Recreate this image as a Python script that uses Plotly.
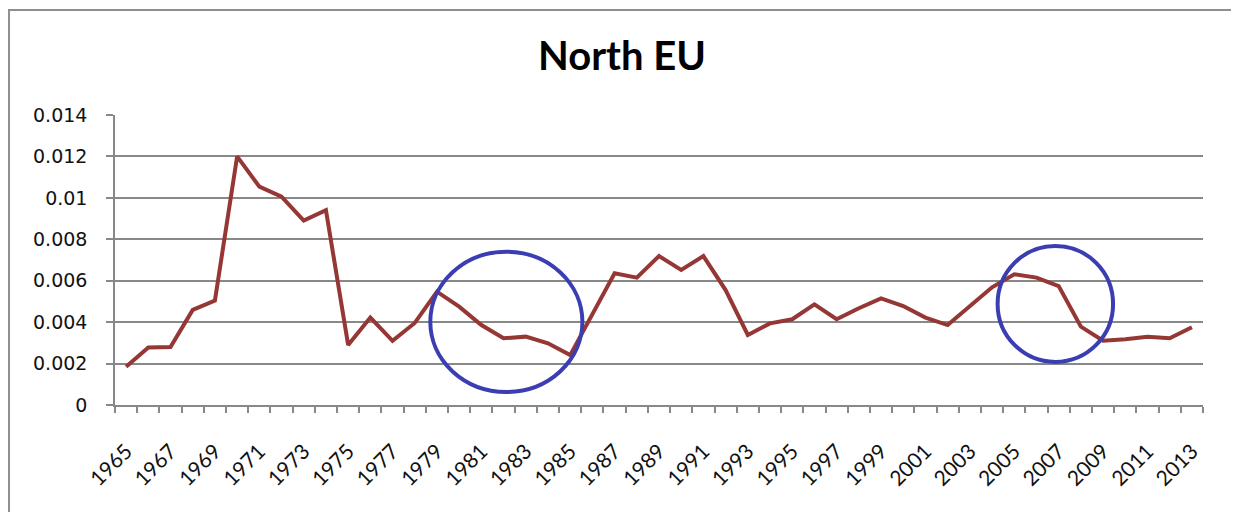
import plotly.graph_objects as go

# --------------------------------------------------
# Data
# --------------------------------------------------
years = list(range(1965, 2014))
values = [
    0.00185, 0.00278, 0.0028, 0.00459, 0.00504,   # 1965-1969
    0.0120, 0.01054, 0.01006, 0.0089, 0.00941,    # 1970-1974
    0.0029, 0.00422, 0.0031, 0.00396, 0.00547,    # 1975-1979
    0.00475, 0.00386, 0.00322, 0.0033, 0.00298,   # 1980-1984
    0.00241, 0.00443, 0.00636, 0.00615, 0.00719,  # 1985-1989
    0.00652, 0.00719, 0.00555, 0.00338, 0.00394,  # 1990-1994
    0.00414, 0.00486, 0.00414, 0.00467, 0.00515,  # 1995-1999
    0.00478, 0.00422, 0.00386, 0.00475, 0.00568,  # 2000-2004
    0.00631, 0.00615, 0.00574, 0.00378, 0.0031,   # 2005-2009
    0.00317, 0.0033, 0.00322, 0.00375,            # 2010-2013
]
tick_years = years[::2]
tick_labels = [str(y) for y in tick_years]
y_ticks = [0, 0.002, 0.004, 0.006, 0.008, 0.01, 0.012, 0.014]
y_tick_labels = ["0", "0.002", "0.004", "0.006", "0.008", "0.01", "0.012", "0.014"]

# hand-drawn highlight circles (year span, value span)
circles = [
    ((1978.7, 1985.55), (0.00063, 0.0074)),
    ((2004.25, 2009.45), (0.00208, 0.00768)),
]

LINE_RED = "#953735"
CIRCLE_BLUE = "#3a3eb2"
GRID = "#888888"

fig = go.Figure()

fig.add_trace(go.Scatter(
    x=years,
    y=values,
    mode="lines",
    line=dict(color=LINE_RED, width=4),
    showlegend=False,
    hovertemplate="%{x}: %{y:.4f}<extra></extra>",
))

shapes = [
    # outer chart frame (runs off the bottom of the picture)
    dict(type="rect", xref="paper", yref="paper",
         x0=-0.0974, x1=1.0285, y0=-0.6, y1=1.362,
         line=dict(color="#8f8f8f", width=2), layer="below"),
]
for (xa, xb), (ya, yb) in circles:
    shapes.append(dict(
        type="circle", xref="x", yref="y",
        x0=xa, x1=xb, y0=ya, y1=yb,
        line=dict(color=CIRCLE_BLUE, width=4),
    ))

# page body adds an 8px offset, so the figure is a bit smaller than the window
fig.update_layout(
    width=1231,
    height=504,
    paper_bgcolor="white",
    plot_bgcolor="white",
    margin=dict(l=107, r=36, t=107, b=107),
    title=dict(
        text="<b>North EU</b>",
        x=(622 - 8) / 1231, xanchor="center",
        y=1 - 48 / 504, yanchor="middle",
        font=dict(family="Lato, Open Sans, sans-serif", size=40, color="black"),
    ),
    xaxis=dict(
        range=[1964.5, 2013.5],
        tickmode="array",
        tickvals=tick_years,
        ticktext=tick_labels,
        tickangle=-45,
        ticks="",
        ticklabelstandoff=24,
        tickfont=dict(family="Lato, Open Sans, sans-serif", size=21, color="#111"),
        showgrid=False,
        zeroline=False,
        showline=True,
        linecolor=GRID,
        linewidth=1.5,
        minor=dict(
            tick0=1964.5, dtick=1,
            ticks="outside", ticklen=6, tickwidth=1.5, tickcolor=GRID,
            showgrid=False,
        ),
    ),
    yaxis=dict(
        range=[0, 0.014],
        tickmode="array",
        tickvals=y_ticks,
        ticktext=y_tick_labels,
        ticks="outside",
        ticklen=7,
        tickwidth=1.5,
        tickcolor=GRID,
        ticklabelstandoff=15,
        tickfont=dict(family="DejaVu Sans, Verdana, sans-serif", size=19, color="#111"),
        showgrid=True,
        gridcolor=GRID,
        gridwidth=1.5,
        zeroline=False,
        showline=True,
        linecolor=GRID,
        linewidth=1.5,
    ),
    shapes=shapes,
)

fig.write_html("out.html")
